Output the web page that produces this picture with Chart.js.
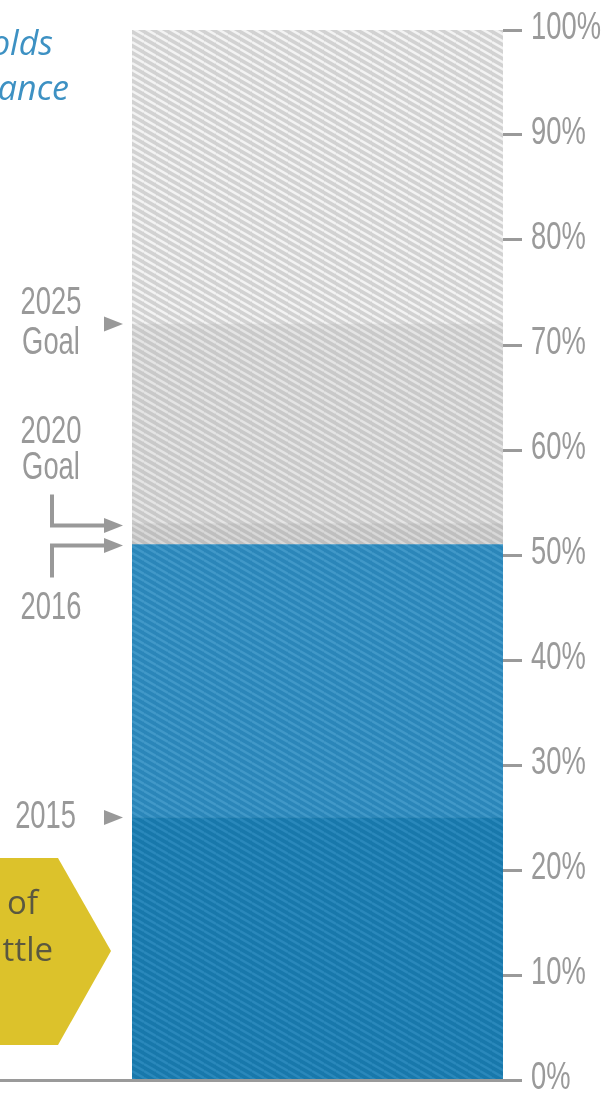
<!DOCTYPE html>
<html>
<head>
<meta charset="utf-8">
<script src="https://cdn.jsdelivr.net/npm/chart.js@4.4.1/dist/chart.umd.min.js"></script>
<style>
  html, body { margin: 0; padding: 0; background: #fff; }
  #wrap { width: 607px; height: 1096px; }
</style>
</head>
<body>
<div id="wrap"><canvas id="chart"></canvas></div>
<script>
// data
var categories = ["Households"];
var segmentNames = ["2015", "2016", "2020 Goal", "2025 Goal", "Remaining"];
var segmentLevels = [25, 51, 53, 72, 100];
var yTicks = [0, 10, 20, 30, 40, 50, 60, 70, 80, 90, 100];

var labelFont = '38px "Liberation Sans", Arial, sans-serif';
var squeeze = 0.72;

function hatch(base, stripe) {
  var w = 12, h = 7;
  var c = document.createElement('canvas');
  c.width = w; c.height = h;
  var g = c.getContext('2d');
  g.fillStyle = base;
  g.fillRect(0, 0, w, h);
  g.strokeStyle = stripe;
  g.lineWidth = 2.4;
  [-h, 0, h].forEach(function (dy) {
    g.beginPath();
    g.moveTo(0, dy);
    g.lineTo(w, dy + h);
    g.stroke();
  });
  return g.createPattern(c, 'repeat');
}

var fills = [
  hatch('#1878ab', '#2a88bb'),
  hatch('#2b86b9', '#4198c8'),
  hatch('#bfbfbf', '#d8d8d8'),
  hatch('#c9c9c9', '#e4e4e4'),
  hatch('#d2d2d2', '#f3f3f3')
];

var datasets = [];
var prev = 0;
for (var i = 0; i < segmentLevels.length; i++) {
  datasets.push({
    label: segmentNames[i],
    data: [[prev, segmentLevels[i]]],
    backgroundColor: fills[i],
    borderWidth: 0,
    grouped: false,
    barPercentage: 1,
    categoryPercentage: 1
  });
  prev = segmentLevels[i];
}

// condensed look: no narrow font installed, so squeeze horizontally
function narrowText(ctx, text, x, y, align) {
  ctx.save();
  ctx.translate(x, y);
  ctx.scale(squeeze, 1);
  ctx.textAlign = align;
  ctx.fillText(text, 0, 0);
  ctx.restore();
}

function arrowHead(ctx, tipX, y) {
  ctx.beginPath();
  ctx.moveTo(tipX, y);
  ctx.lineTo(tipX - 19, y - 7.5);
  ctx.lineTo(tipX - 19, y + 7.5);
  ctx.closePath();
  ctx.fill();
}

var annotations = {
  id: 'annotations',
  afterDraw: function (chart) {
    var ctx = chart.ctx;
    var y = chart.scales.y;
    ctx.save();

    // baseline
    ctx.strokeStyle = '#9a9a9a';
    ctx.lineWidth = 3;
    ctx.beginPath();
    ctx.moveTo(0, y.getPixelForValue(0) + 0.5);
    ctx.lineTo(522, y.getPixelForValue(0) + 0.5);
    ctx.stroke();

    ctx.fillStyle = '#9a9a9a';
    ctx.font = labelFont;
    ctx.textBaseline = 'middle';

    // axis tick labels
    y.ticks.forEach(function (t) {
      narrowText(ctx, t.label, 531, y.getPixelForValue(t.value) - 1, 'left');
    });

    ctx.fillStyle = '#999';
    ctx.strokeStyle = '#999';
    ctx.lineWidth = 4;

    // 2025 goal
    var p = y.getPixelForValue(segmentLevels[3]);
    narrowText(ctx, '2025', 51, p - 20, 'center');
    narrowText(ctx, 'Goal', 51, p + 20, 'center');
    arrowHead(ctx, 123, p);

    // 2020 goal
    p = y.getPixelForValue(segmentLevels[2]);
    narrowText(ctx, '2020', 51, p - 91, 'center');
    narrowText(ctx, 'Goal', 51, p - 55, 'center');
    ctx.beginPath();
    ctx.moveTo(52, p - 29);
    ctx.lineTo(52, p + 2);
    ctx.lineTo(106, p + 2);
    ctx.stroke();
    arrowHead(ctx, 123, p + 2);

    // 2016
    p = y.getPixelForValue(segmentLevels[1]);
    ctx.beginPath();
    ctx.moveTo(106, p + 1);
    ctx.lineTo(52, p + 1);
    ctx.lineTo(52, p + 33);
    ctx.stroke();
    arrowHead(ctx, 123, p + 1);
    narrowText(ctx, '2016', 51, p + 64, 'center');

    // 2015
    p = y.getPixelForValue(segmentLevels[0]);
    narrowText(ctx, '2015', 76, p, 'right');
    arrowHead(ctx, 123, p);

    // top-left clipped caption
    ctx.textAlign = 'right';
    ctx.fillStyle = '#3d91c3';
    ctx.font = 'italic 34px "Open Sans", sans-serif';
    ctx.fillText('Households', 53, 45);
    ctx.fillText('in compliance', 69, 90);

    // yellow callout
    ctx.fillStyle = '#dcc22b';
    ctx.beginPath();
    ctx.moveTo(0, 858);
    ctx.lineTo(58, 858);
    ctx.lineTo(111, 951);
    ctx.lineTo(58, 1045);
    ctx.lineTo(0, 1045);
    ctx.closePath();
    ctx.fill();
    ctx.fillStyle = '#5a5840';
    ctx.font = '33px "Open Sans", sans-serif';
    ctx.fillText('Share of', 38, 905);
    ctx.fillText('cattle', 53, 952);

    ctx.restore();
  }
};

new Chart(document.getElementById('chart'), {
  type: 'bar',
  data: { labels: categories, datasets: datasets },
  options: {
    responsive: true,
    maintainAspectRatio: false,
    animation: false,
    layout: { padding: { left: 132, right: 0, top: 30, bottom: 16 } },
    plugins: { legend: { display: false }, tooltip: { enabled: false } },
    scales: {
      x: { display: false },
      y: {
        position: 'right',
        min: 0,
        max: 100,
        afterBuildTicks: function (scale) {
          scale.ticks = yTicks.map(function (v) { return { value: v }; });
        },
        afterFit: function (scale) {
          scale.width = 104;
          scale.paddingTop = 0;
          scale.paddingBottom = 0;
        },
        border: { display: false },
        grid: {
          drawOnChartArea: false,
          tickLength: 19,
          tickWidth: 3,
          tickColor: '#9a9a9a'
        },
        ticks: {
          display: false,
          callback: function (v) { return v + '%'; }
        }
      }
    }
  },
  plugins: [annotations]
});
</script>
</body>
</html>
